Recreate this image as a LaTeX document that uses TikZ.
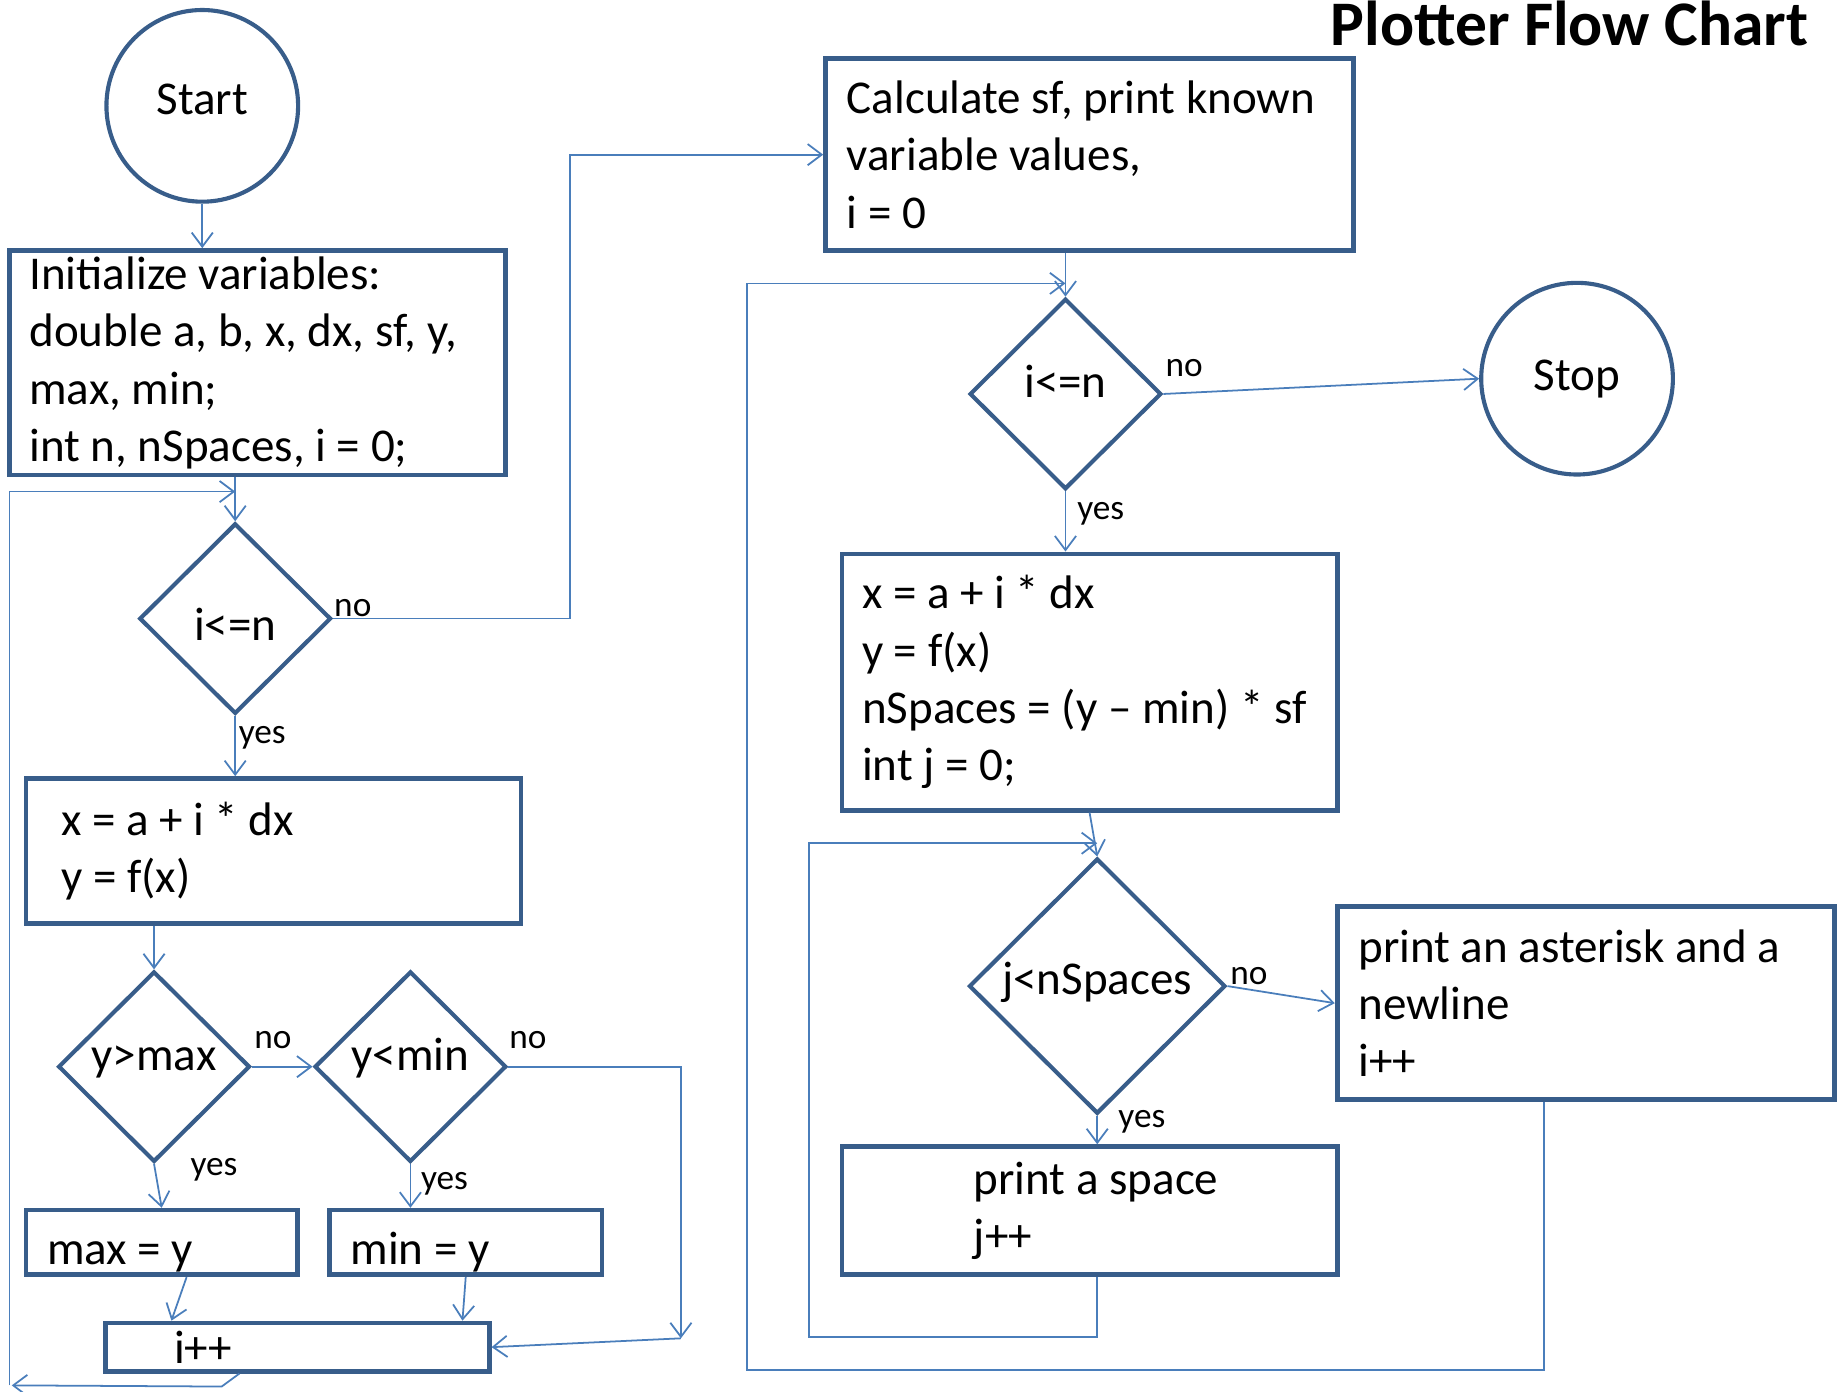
\documentclass[tikz,border=0pt]{standalone}
\usepackage{fontspec}
\setmainfont{Carlito}
\usetikzlibrary{arrows.meta,shapes.geometric,calc}
\definecolor{boxc}{HTML}{385D8A}
\definecolor{linec}{HTML}{4A7EBB}
\tikzset{
  bodyfont/.style={font=\fontsize{20pt}{24.4pt}\selectfont},
  every node/.style={execute at begin node={\spaceskip=0pt\xspaceskip=0pt\relax}},
  pbox/.style={rectangle, draw=boxc, line width=2pt, align=left, inner ysep=0pt, bodyfont},
  term/.style={circle, draw=boxc, line width=1.75pt, minimum size=81.5pt, inner sep=0pt, bodyfont},
  dec/.style={diamond, draw=boxc, line width=1.75pt, inner sep=0pt, minimum width=81.5pt, minimum height=81pt, bodyfont},
  lab/.style={font=\fontsize{15pt}{18pt}\selectfont, inner sep=0pt},
  conn/.style={draw=linec, line width=0.75pt, -{Straight Barb[length=6pt,width=9pt]}},
}
\begin{document}
\begin{tikzpicture}[x=0.5pt,y=-0.5pt]
\useasboundingbox (0,0) rectangle (1568,1183);

% title
\node[font=\fontsize{27pt}{32pt}\selectfont\bfseries, anchor=base east, inner sep=0pt] (title) at (1538,39) {Plotter Flow Chart};

% left column
\node[term, text depth=6pt] (start) at (172,90) {Start};
\node[pbox, text width=194pt, inner xsep=8.5pt, minimum height=95.5pt] (init) at (219,308.5)
  {Initialize variables:\\double a, b, x, dx, sf, y,\\max, min;\\int n, nSpaces, i = 0;};
\node[dec, text height=19pt, text depth=0pt] (d1) at (200,526) {i<=n};
\node[pbox, text width=180.5pt, inner xsep=15pt, minimum height=61.5pt] (box2) at (232.5,723.5)
  {x = a + i * dx\\y = f(x)};
\node[dec, text height=9pt, text depth=6pt] (dmax) at (131,907) {y>max};
\node[dec, text height=9pt, text depth=6pt] (dmin) at (349,907) {y<min};
\node[pbox, text width=97.5pt, inner xsep=9pt, minimum height=27.5pt, text height=21pt, text depth=2pt] (maxb) at (137.5,1056.5) {max = y};
\node[pbox, text width=98pt, inner xsep=9pt, minimum height=27.5pt, text height=21pt, text depth=2pt] (minb) at (396,1056.5) {min = y};
\node[pbox, text width=105pt, inner xsep=29pt, minimum height=20.5pt] (inc) at (253,1145.5) {i++};

% right column
\node[pbox, text width=206.5pt, inner xsep=9pt, minimum height=81.5pt] (calc) at (926.5,131.5)
  {\mbox{Calculate sf, print known}\\variable values,\\i = 0};
\node[dec, text height=9pt, text depth=6pt] (d2) at (906,335) {i<=n};
\node[term] (stop) at (1341,322) {Stop};
\node[pbox, text width=193.5pt, inner xsep=8.5pt, minimum height=109pt] (box3) at (926.5,580)
  {x = a + i * dx\\y = f(x)\\\mbox{nSpaces = (y – min) * sf}\\int j = 0;};
\node[dec, minimum width=109pt, minimum height=108.5pt, text height=12pt, text depth=5pt] (dj) at (933,838.5) {j<nSpaces};
\node[pbox, text width=193.5pt, inner xsep=9pt, minimum height=82pt] (ast) at (1348.5,853)
  {\mbox{print an asterisk and a}\\newline\\i++};
\node[pbox, text width=98.5pt, inner xsep=56pt, minimum height=54.5pt] (space) at (926.5,1029.5)
  {\mbox{print a space}\\j++};

% labels
\node[lab] (d1no) at (300,517) {no};
\node[lab] (d1yes) at (223,627) {yes};
\node[lab] (dmaxno) at (232,884) {no};
\node[lab] (dmaxyes) at (182,995) {yes};
\node[lab] (dminno) at (449,884) {no};
\node[lab] (dminyes) at (378,1007) {yes};
\node[lab] (d2no) at (1007,313) {no};
\node[lab] (d2yes) at (936,437) {yes};
\node[lab] (djno) at (1062,830) {no};
\node[lab] (djyes) at (971,954) {yes};

% helper coordinates
\coordinate (lp1) at (8,1178);
\coordinate (lp2) at (8,418);
\coordinate (n1) at (485,526);
\coordinate (n2) at (579,907);
\coordinate (n3) at (579,1138);
\coordinate (o1) at (635,1165);
\coordinate (o2) at (635,241);
\coordinate (i1) at (688,1137);
\coordinate (i2) at (688,717);
\coordinate (incb) at ($(inc.south west)!0.35!(inc.south east)$);
\coordinate (astb) at ($(ast.south west)!0.416!(ast.south east)$);

% connectors left
\draw[conn] (start.south) -- (start.south |- init.north);
\draw[conn] (init.south -| d1.north) -- (d1.north);
\draw[conn] (incb) -- ++(-7.5pt,-5.5pt) -- ([xshift=1pt]lp1);
\draw[conn] (lp1) -- (lp2) -- (lp2 -| d1.north);
\draw[conn] (d1.east) -- (n1) -- (n1 |- calc.west) -- (calc.west);
\draw[conn] (d1.south) -- (d1.south |- box2.north);
\draw[conn] (box2.south -| dmax.north) -- (dmax.north);
\draw[conn] (dmax.east) -- (dmin.west);
\draw[conn] (dmin.east) -- (n2) -- (n3);
\draw[conn] (n3) -- (inc.east);
\draw[conn] (dmax.south) -- (maxb.north);
\draw[conn] (dmin.south) -- (dmin.south |- minb.north);
\draw[conn] ($(maxb.south west)!0.59!(maxb.south east)$) -- ($(inc.north west)!0.175!(inc.north east)$);
\draw[conn] (minb.south) -- ($(inc.north west)!0.925!(inc.north east)$);

% connectors right
\draw[conn] (calc.south -| d2.north) -- (d2.north);
\draw[conn] (astb) -- (astb |- o1) -- (o1) -- (o2) -- (o2 -| d2.north);
\draw[conn] (d2.east) -- (stop.west);
\draw[conn] (d2.south) -- (d2.south |- box3.north);
\draw[conn] (box3.south) -- (dj.north);
\draw[conn] (space.south -| dj.south) -- (i1 -| dj.south) -- (i1) -- (i2) -- (i2 -| dj.north);
\draw[conn] (dj.east) -- (ast.west);
\draw[conn] (dj.south) -- (dj.south |- space.north);
\end{tikzpicture}
\end{document}
